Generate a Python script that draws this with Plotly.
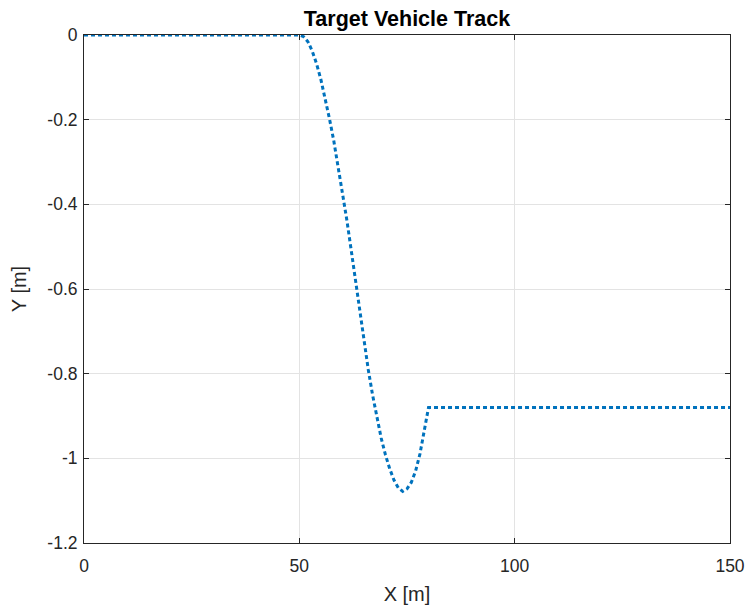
import plotly.graph_objects as go

# Track points
x_vals = [0, 50, 51, 52, 53, 54, 55, 56, 57, 58, 59, 60, 61, 62, 63, 64, 65,
          66, 67, 68, 69, 70, 71, 72, 73, 74, 75, 76, 77, 78, 79, 80, 150]
y_vals = [0, 0, -0.004, -0.016, -0.038, -0.068, -0.105, -0.150, -0.198, -0.250,
          -0.310, -0.372, -0.435, -0.505, -0.578, -0.650, -0.720, -0.790,
          -0.850, -0.905, -0.952, -0.992, -1.025, -1.052, -1.070, -1.078,
          -1.072, -1.057, -1.030, -0.990, -0.935, -0.880, -0.880]

x_ticks = [0, 50, 100, 150]
y_ticks = [0, -0.2, -0.4, -0.6, -0.8, -1, -1.2]
y_tick_text = ["0", "-0.2", "-0.4", "-0.6", "-0.8", "-1", "-1.2"]

FONT = "Liberation Sans, Arial, sans-serif"
AX = "#262626"

fig = go.Figure()
fig.add_trace(go.Scatter(
    x=x_vals, y=y_vals, mode="lines",
    line=dict(color="#0072BD", width=3, dash="4px,3px"),
    showlegend=False,
))

axis_common = dict(
    showline=True, linecolor=AX, linewidth=1, mirror="ticks",
    ticks="inside", ticklen=5, tickcolor=AX, tickwidth=1,
    showgrid=True, gridcolor="#E3E3E3", gridwidth=1,
    zeroline=False, automargin=False,
    tickfont=dict(family=FONT, size=17.5, color=AX),
)

fig.update_layout(
    width=749, height=606,
    margin=dict(l=84, r=19, t=35, b=63),
    paper_bgcolor="white", plot_bgcolor="white",
    title=dict(text="<b>Target Vehicle Track</b>", x=0.5, xref="paper",
               y=1, yref="paper", yanchor="bottom", pad=dict(b=9),
               font=dict(family=FONT, size=21.5, color="black")),
    xaxis=dict(range=[0, 150], tickvals=x_ticks, ticklabelstandoff=7,
               title=dict(text="X [m]", font=dict(family=FONT, size=20, color=AX),
                          standoff=11),
               **axis_common),
    yaxis=dict(range=[-1.2, 0], tickvals=y_ticks, ticktext=y_tick_text,
               ticklabelstandoff=2,
               title=dict(text="Y [m]", font=dict(family=FONT, size=20, color=AX),
                          standoff=15),
               **axis_common),
)

fig.write_html("out.html")
